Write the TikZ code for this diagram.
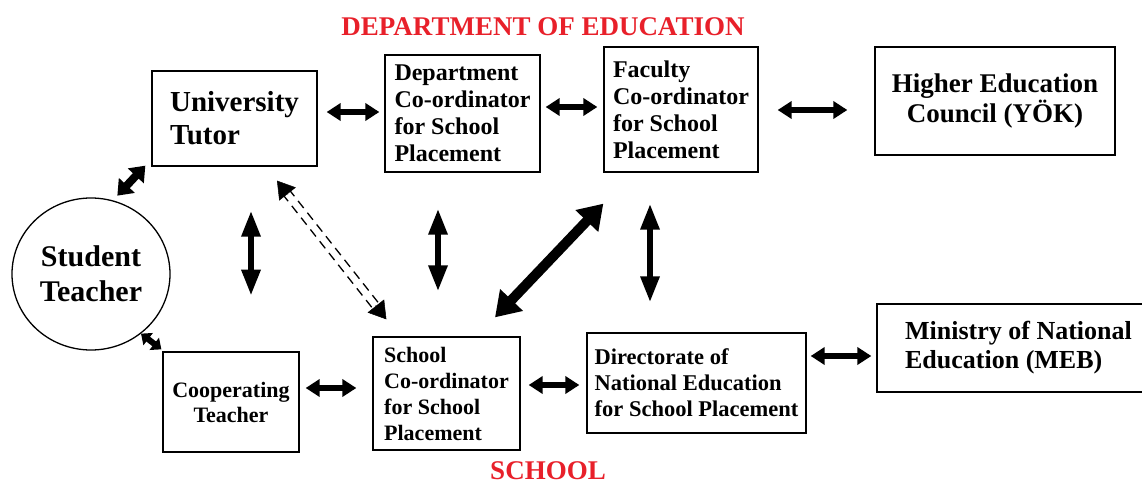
\documentclass[tikz,border=0pt]{standalone}
\usepackage{fontspec}
\setmainfont{Liberation Serif}
\usetikzlibrary{arrows.meta,shapes.geometric,calc}
\definecolor{titlered}{RGB}{232,32,42}
\begin{document}
\begin{tikzpicture}[x=1pt,y=-1pt,
  box/.style={draw, line width=1.3pt, inner sep=0pt},
  title/.style={text=titlered, font=\bfseries\fontsize{27}{30}\selectfont, anchor=base, inner sep=0pt},
  harrow/.style={line width=6pt, {Triangle[length=14pt,width=17pt]}-{Triangle[length=14pt,width=17pt]}},
  varrow/.style={line width=6pt, {Triangle[length=26pt,width=18pt]}-{Triangle[length=26pt,width=18pt]}},
  bigarrow/.style={line width=10pt, {Triangle[length=24pt,width=30pt]}-{Triangle[length=24pt,width=30pt]}},
  dline/.style={line width=1.3pt, dash pattern=on 9pt off 6pt, shorten <=14pt, shorten >=14pt},
  dhead/.style={line width=0.5pt, -{Triangle[length=17pt,width=21pt]}}
]
\useasboundingbox (0,0) rectangle (1142,484);
\clip (0,0) rectangle (1142,484);

\node[title] (tdept) at (543,36) {DEPARTMENT OF EDUCATION};
\node[title] (tschool) at (548,479) {SCHOOL};

\node[box, minimum width=165pt, minimum height=95pt, align=left,
  font=\bfseries\fontsize{29}{33}\selectfont] (ut) at (234.5,118.5) {University\\Tutor};
\node[box, minimum width=155pt, minimum height=117pt, align=left,
  font=\bfseries\fontsize{24}{27}\selectfont] (dc) at (462.5,113.5) {Department\\Co-ordinator\\for School\\Placement};
\node[box, minimum width=154pt, minimum height=125pt, align=left,
  font=\bfseries\fontsize{24}{27}\selectfont] (fc) at (681,109.5) {Faculty\\Co-ordinator\\for School\\Placement};
\node[box, minimum width=240pt, minimum height=108pt, align=center,
  font=\bfseries\fontsize{27}{28}\selectfont] (hec) at (995,101) {Higher Education\\Council (YÖK)};
\node[box, minimum width=283pt, minimum height=88pt, align=left,
  font=\bfseries\fontsize{26}{29}\selectfont] (meb) at (1018.5,348) {Ministry of National\\Education (MEB)};
\node[draw, ellipse, line width=1.3pt, inner sep=0pt, minimum width=158pt, minimum height=152pt, align=center,
  font=\bfseries\fontsize{30}{35}\selectfont] (st) at (91,274) {Student\\Teacher};
\node[box, minimum width=136pt, minimum height=100pt, align=center,
  font=\bfseries\fontsize{22}{25}\selectfont] (ct) at (231,402) {Cooperating\\Teacher};
\node[box, minimum width=147pt, minimum height=113pt, align=left,
  font=\bfseries\fontsize{22}{26}\selectfont] (sc) at (446.5,393.5) {School\\Co-ordinator\\for School\\Placement};
\node[box, minimum width=219pt, minimum height=100pt, align=left,
  font=\bfseries\fontsize{22.5}{26}\selectfont] (dir) at (696.5,383) {Directorate of\\National Education\\for School Placement};

% horizontal arrows
\draw[harrow] ($(ut.east)+(9,-6.5)$) -- ($(dc.west)+(-5,-1.5)$);
\draw[harrow] ($(dc.east)+(5,-6.5)$) -- ($(fc.west)+(-6,-2.5)$);
\draw[harrow] ($(fc.east)+(19,0.5)$) -- ($(hec.west)+(-27,9)$);
\draw[harrow] ($(ct.east)+(6,-14)$) -- ($(sc.west)+(-16,-5.5)$);
\draw[harrow] ($(sc.east)+(8,-8.5)$) -- ($(dir.west)+(-7,2)$);
\draw[harrow] ($(dir.east)+(4,-27)$) -- ($(meb.west)+(-5,8)$);

% student teacher arrows
\draw[line width=8pt, {Triangle[length=14pt,width=21pt]}-{Triangle[length=14pt,width=21pt]}]
  ($(st.70)+(0,-6)$) -- ($(ut.south west)+(-6,-1)$);
\draw[line width=6pt, {Triangle[length=9pt,width=15pt]}-{Triangle[length=9pt,width=15pt]}]
  (st.-50) -- ($(ct.north west)+(-1,-2)$);

% vertical arrows
\draw[varrow] ($(ut.south)+(16.5,44)$) -- ($(ut.south)+(16.5,129)$);
\draw[varrow] ($(dc.south)+(-24.5,36)$) -- ($(sc.north)+(-8.5,-45)$);
\draw[varrow] ($(fc.south)+(-31,31)$) -- ($(dir.north)+(-46.5,-30)$);

% big diagonal
\draw[bigarrow] ($(sc.north)+(48.5,-19)$) -- ($(fc.south west)+(0,31)$);

% dashed double arrow
\coordinate (dA) at ($(ut.south)+(42.5,14)$);
\coordinate (dB) at ($(sc.north west)+(14,-17)$);
\draw[dline] ($(dA)!4pt!90:(dB)$) -- ($(dB)!4pt!-90:(dA)$);
\draw[dline] ($(dA)!4pt!-90:(dB)$) -- ($(dB)!4pt!90:(dA)$);
\draw[dhead] ($(dA)!17.5pt!(dB)$) -- (dA);
\draw[dhead] ($(dB)!17.5pt!(dA)$) -- (dB);
\end{tikzpicture}
\end{document}
